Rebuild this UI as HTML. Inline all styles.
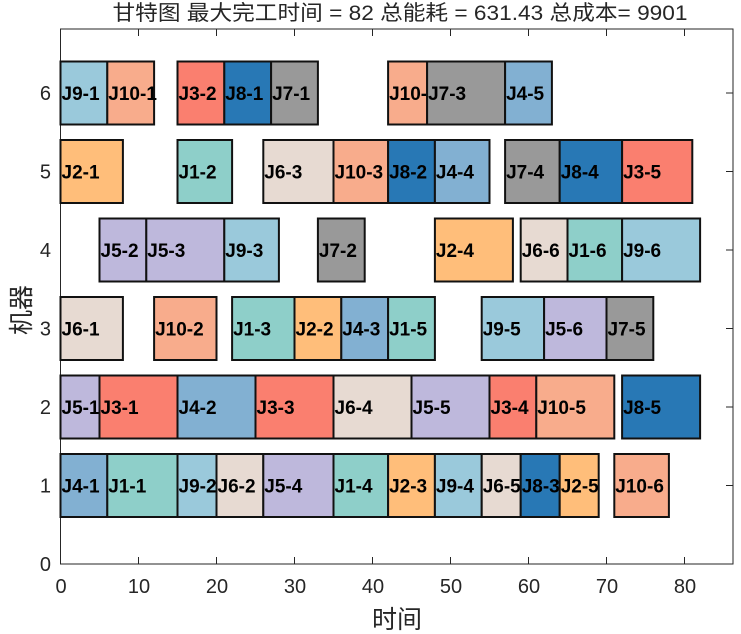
<!DOCTYPE html>
<html><head><meta charset="utf-8"><style>
body{margin:0;background:#fff}
svg{display:block}
.b rect{stroke:#111;stroke-width:2}
.b text{font-family:"Liberation Sans",sans-serif;font-weight:bold;font-size:19px;fill:#000}
.t{font-family:"Liberation Sans","Noto Sans CJK SC",sans-serif;fill:#262626}
</style></head><body>
<svg width="741" height="634" viewBox="0 0 741 634">
<rect x="60.5" y="29" width="672.5" height="535" fill="none" stroke="#262626" stroke-width="1"/>
<g stroke="#262626" stroke-width="1">
<line x1="138.5" y1="564" x2="138.5" y2="557"/><line x1="216.5" y1="564" x2="216.5" y2="557"/><line x1="294.5" y1="564" x2="294.5" y2="557"/><line x1="372.5" y1="564" x2="372.5" y2="557"/><line x1="450.5" y1="564" x2="450.5" y2="557"/><line x1="528.5" y1="564" x2="528.5" y2="557"/><line x1="606.5" y1="564" x2="606.5" y2="557"/><line x1="684.5" y1="564" x2="684.5" y2="557"/>
<line x1="138.5" y1="29" x2="138.5" y2="36"/><line x1="216.5" y1="29" x2="216.5" y2="36"/><line x1="294.5" y1="29" x2="294.5" y2="36"/><line x1="372.5" y1="29" x2="372.5" y2="36"/><line x1="450.5" y1="29" x2="450.5" y2="36"/><line x1="528.5" y1="29" x2="528.5" y2="36"/><line x1="606.5" y1="29" x2="606.5" y2="36"/><line x1="684.5" y1="29" x2="684.5" y2="36"/>
<line x1="733" y1="485.5" x2="726" y2="485.5"/><line x1="733" y1="407" x2="726" y2="407"/><line x1="733" y1="328.5" x2="726" y2="328.5"/><line x1="733" y1="250" x2="726" y2="250"/><line x1="733" y1="171.5" x2="726" y2="171.5"/><line x1="733" y1="93" x2="726" y2="93"/>
</g>
<g class="t" font-size="20" text-anchor="middle">
<text x="61" y="593">0</text><text x="139" y="593">10</text><text x="217" y="593">20</text><text x="295" y="593">30</text><text x="373" y="593">40</text><text x="451" y="593">50</text><text x="529" y="593">60</text><text x="607" y="593">70</text><text x="685" y="593">80</text>
</g>
<g class="t" font-size="20" text-anchor="end">
<text x="51" y="571">0</text><text x="51" y="492.5">1</text><text x="51" y="414">2</text><text x="51" y="335.5">3</text><text x="51" y="257">4</text><text x="51" y="178.5">5</text><text x="51" y="100">6</text>
</g>
<text class="t" x="400" y="20" font-size="21" text-anchor="middle" textLength="575" lengthAdjust="spacingAndGlyphs">甘特图 最大完工时间 = 82 总能耗 = 631.43 总成本= 9901</text>
<text class="t" x="397" y="628" font-size="25" text-anchor="middle">时间</text>
<text class="t" x="0" y="0" font-size="25" text-anchor="middle" transform="translate(30,310) rotate(-90)">机器</text>
<g class="b">
<rect x="60.5" y="61.5" width="46.8" height="63" fill="#9ac9db"/><text x="61.5" y="100">J9-1</text>
<rect x="107.3" y="61.5" width="46.8" height="63" fill="#f8ac8c"/><text x="108.3" y="100">J10-1</text>
<rect x="177.5" y="61.5" width="46.8" height="63" fill="#fa7f6f"/><text x="178.5" y="100">J3-2</text>
<rect x="224.3" y="61.5" width="46.8" height="63" fill="#2878b5"/><text x="225.3" y="100">J8-1</text>
<rect x="271.1" y="61.5" width="46.8" height="63" fill="#999999"/><text x="272.1" y="100">J7-1</text>
<rect x="388.1" y="61.5" width="39" height="63" fill="#f8ac8c"/><text x="389.1" y="100">J10-4</text>
<rect x="427.1" y="61.5" width="78" height="63" fill="#999999"/><text x="428.1" y="100">J7-3</text>
<rect x="505.1" y="61.5" width="46.8" height="63" fill="#82b0d2"/><text x="506.1" y="100">J4-5</text>
<rect x="60.5" y="140" width="62.4" height="63" fill="#ffbe7a"/><text x="61.5" y="178.5">J2-1</text>
<rect x="177.5" y="140" width="54.6" height="63" fill="#8ecfc9"/><text x="178.5" y="178.5">J1-2</text>
<rect x="263.3" y="140" width="70.2" height="63" fill="#e7dad2"/><text x="264.3" y="178.5">J6-3</text>
<rect x="333.5" y="140" width="54.6" height="63" fill="#f8ac8c"/><text x="334.5" y="178.5">J10-3</text>
<rect x="388.1" y="140" width="46.8" height="63" fill="#2878b5"/><text x="389.1" y="178.5">J8-2</text>
<rect x="434.9" y="140" width="54.6" height="63" fill="#82b0d2"/><text x="435.9" y="178.5">J4-4</text>
<rect x="505.1" y="140" width="54.6" height="63" fill="#999999"/><text x="506.1" y="178.5">J7-4</text>
<rect x="559.7" y="140" width="62.4" height="63" fill="#2878b5"/><text x="560.7" y="178.5">J8-4</text>
<rect x="622.1" y="140" width="70.2" height="63" fill="#fa7f6f"/><text x="623.1" y="178.5">J3-5</text>
<rect x="99.5" y="218.5" width="46.8" height="63" fill="#beb8dc"/><text x="100.5" y="257">J5-2</text>
<rect x="146.3" y="218.5" width="78" height="63" fill="#beb8dc"/><text x="147.3" y="257">J5-3</text>
<rect x="224.3" y="218.5" width="54.6" height="63" fill="#9ac9db"/><text x="225.3" y="257">J9-3</text>
<rect x="317.9" y="218.5" width="46.8" height="63" fill="#999999"/><text x="318.9" y="257">J7-2</text>
<rect x="434.9" y="218.5" width="78" height="63" fill="#ffbe7a"/><text x="435.9" y="257">J2-4</text>
<rect x="520.7" y="218.5" width="46.8" height="63" fill="#e7dad2"/><text x="521.7" y="257">J6-6</text>
<rect x="567.5" y="218.5" width="54.6" height="63" fill="#8ecfc9"/><text x="568.5" y="257">J1-6</text>
<rect x="622.1" y="218.5" width="78" height="63" fill="#9ac9db"/><text x="623.1" y="257">J9-6</text>
<rect x="60.5" y="297" width="62.4" height="63" fill="#e7dad2"/><text x="61.5" y="335.5">J6-1</text>
<rect x="154.1" y="297" width="62.4" height="63" fill="#f8ac8c"/><text x="155.1" y="335.5">J10-2</text>
<rect x="232.1" y="297" width="62.4" height="63" fill="#8ecfc9"/><text x="233.1" y="335.5">J1-3</text>
<rect x="294.5" y="297" width="46.8" height="63" fill="#ffbe7a"/><text x="295.5" y="335.5">J2-2</text>
<rect x="341.3" y="297" width="46.8" height="63" fill="#82b0d2"/><text x="342.3" y="335.5">J4-3</text>
<rect x="388.1" y="297" width="46.8" height="63" fill="#8ecfc9"/><text x="389.1" y="335.5">J1-5</text>
<rect x="481.7" y="297" width="62.4" height="63" fill="#9ac9db"/><text x="482.7" y="335.5">J9-5</text>
<rect x="544.1" y="297" width="62.4" height="63" fill="#beb8dc"/><text x="545.1" y="335.5">J5-6</text>
<rect x="606.5" y="297" width="46.8" height="63" fill="#999999"/><text x="607.5" y="335.5">J7-5</text>
<rect x="60.5" y="375.5" width="39" height="63" fill="#beb8dc"/><text x="61.5" y="414">J5-1</text>
<rect x="99.5" y="375.5" width="78" height="63" fill="#fa7f6f"/><text x="100.5" y="414">J3-1</text>
<rect x="177.5" y="375.5" width="78" height="63" fill="#82b0d2"/><text x="178.5" y="414">J4-2</text>
<rect x="255.5" y="375.5" width="78" height="63" fill="#fa7f6f"/><text x="256.5" y="414">J3-3</text>
<rect x="333.5" y="375.5" width="78" height="63" fill="#e7dad2"/><text x="334.5" y="414">J6-4</text>
<rect x="411.5" y="375.5" width="78" height="63" fill="#beb8dc"/><text x="412.5" y="414">J5-5</text>
<rect x="489.5" y="375.5" width="46.8" height="63" fill="#fa7f6f"/><text x="490.5" y="414">J3-4</text>
<rect x="536.3" y="375.5" width="78" height="63" fill="#f8ac8c"/><text x="537.3" y="414">J10-5</text>
<rect x="622.1" y="375.5" width="78" height="63" fill="#2878b5"/><text x="623.1" y="414">J8-5</text>
<rect x="60.5" y="454" width="46.8" height="63" fill="#82b0d2"/><text x="61.5" y="492.5">J4-1</text>
<rect x="107.3" y="454" width="70.2" height="63" fill="#8ecfc9"/><text x="108.3" y="492.5">J1-1</text>
<rect x="177.5" y="454" width="39" height="63" fill="#9ac9db"/><text x="178.5" y="492.5">J9-2</text>
<rect x="216.5" y="454" width="46.8" height="63" fill="#e7dad2"/><text x="217.5" y="492.5">J6-2</text>
<rect x="263.3" y="454" width="70.2" height="63" fill="#beb8dc"/><text x="264.3" y="492.5">J5-4</text>
<rect x="333.5" y="454" width="54.6" height="63" fill="#8ecfc9"/><text x="334.5" y="492.5">J1-4</text>
<rect x="388.1" y="454" width="46.8" height="63" fill="#ffbe7a"/><text x="389.1" y="492.5">J2-3</text>
<rect x="434.9" y="454" width="46.8" height="63" fill="#9ac9db"/><text x="435.9" y="492.5">J9-4</text>
<rect x="481.7" y="454" width="39" height="63" fill="#e7dad2"/><text x="482.7" y="492.5">J6-5</text>
<rect x="520.7" y="454" width="39" height="63" fill="#2878b5"/><text x="521.7" y="492.5">J8-3</text>
<rect x="559.7" y="454" width="39" height="63" fill="#ffbe7a"/><text x="560.7" y="492.5">J2-5</text>
<rect x="614.3" y="454" width="54.6" height="63" fill="#f8ac8c"/><text x="615.3" y="492.5">J10-6</text>
</g>
</svg>
</body></html>
